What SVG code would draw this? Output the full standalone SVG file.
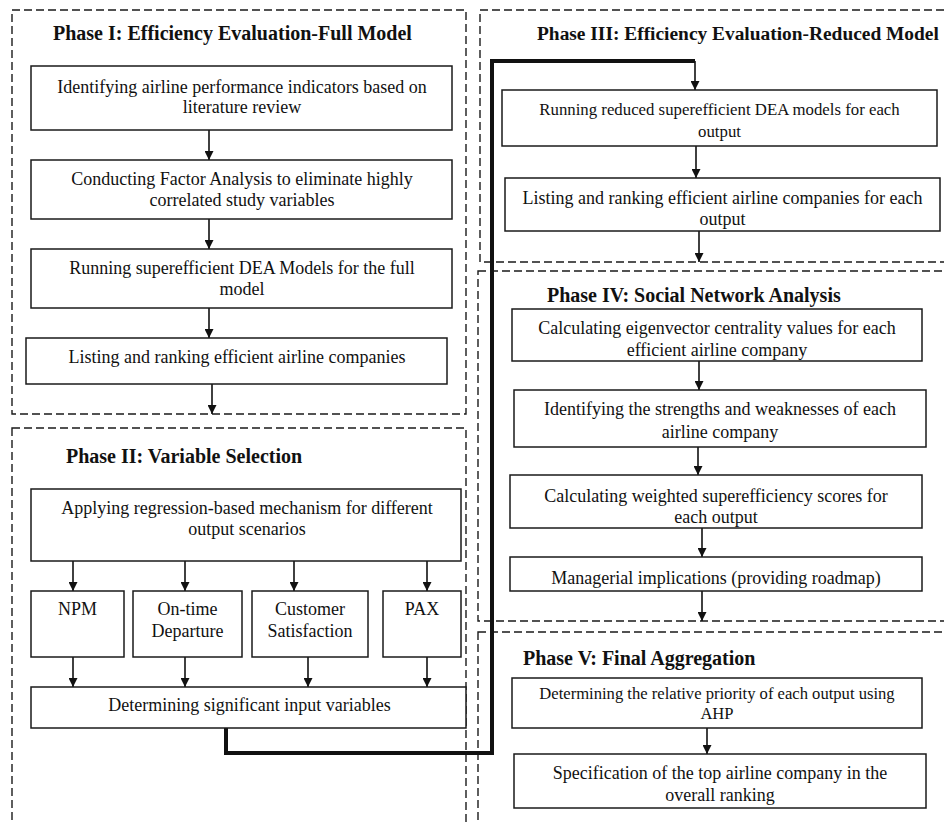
<svg xmlns="http://www.w3.org/2000/svg" width="944" height="824" viewBox="0 0 944 824">
<style>
.phase{fill:none;stroke:#1a1a1a;stroke-width:1.4;stroke-dasharray:8 4}
.box{fill:#fff;stroke:#1a1a1a;stroke-width:1.5}
.t{font-family:"Liberation Serif","Times New Roman",serif;font-size:18px;fill:#111;text-anchor:middle}
.h{font-family:"Liberation Serif","Times New Roman",serif;font-size:20px;font-weight:bold;fill:#111}
.arr{fill:none;stroke:#111;stroke-width:1.6;marker-end:url(#ah)}
.thick{fill:none;stroke:#111;stroke-width:4;stroke-linejoin:miter}
</style>
<defs>
<marker id="ah" markerUnits="userSpaceOnUse" markerWidth="10" markerHeight="9" refX="10" refY="5" orient="auto" viewBox="0 0 10 10">
<path d="M0,0 L10,5 L0,10 Z" fill="#111"/>
</marker>
</defs>
<rect width="944" height="824" fill="#fff"/>

<g id="phase1">
<rect class="phase" x="12" y="10" width="454" height="404"/>
<text class="h" x="53" y="40">Phase I: Efficiency Evaluation-Full Model</text>
</g>
<g id="phase2">
<rect class="phase" x="12" y="428" width="454" height="420"/>
<text class="h" x="66" y="463">Phase II: Variable Selection</text>
</g>
<g id="phase3">
<rect class="phase" x="480" y="10" width="480" height="252"/>
<text class="h" x="537" y="40" style="font-size:19.4px">Phase III: Efficiency Evaluation-Reduced Model</text>
</g>
<g id="phase4">
<rect class="phase" x="478" y="271" width="480" height="350"/>
<text class="h" x="547" y="302">Phase IV: Social Network Analysis</text>
</g>
<g id="phase5">
<rect class="phase" x="478" y="632" width="480" height="220"/>
<text class="h" x="523" y="665">Phase V: Final Aggregation</text>
</g>

<g id="connectors">
<path class="thick" d="M226,728 V753 H492 V61 H695"/>
<path class="arr" d="M695,61 V90"/>
<path class="arr" d="M209,130 V160"/>
<path class="arr" d="M209,219 V249"/>
<path class="arr" d="M209,308 V338"/>
<path class="arr" d="M212,384 V414"/>
<path class="arr" d="M73,561 V591"/>
<path class="arr" d="M185,561 V591"/>
<path class="arr" d="M294,561 V591"/>
<path class="arr" d="M427,561 V591"/>
<path class="arr" d="M73,657 V687"/>
<path class="arr" d="M185,657 V687"/>
<path class="arr" d="M308,657 V687"/>
<path class="arr" d="M427,657 V687"/>
<path class="arr" d="M696,146 V178"/>
<path class="arr" d="M699,231 V262"/>
<path class="arr" d="M699,361 V390"/>
<path class="arr" d="M698,447 V475"/>
<path class="arr" d="M702,528 V557"/>
<path class="arr" d="M702,591 V621"/>
<path class="arr" d="M707,728 V754"/>
</g>

<g id="n1"><rect class="box" x="31" y="66" width="421" height="64"/>
<text class="t" x="242" y="93">Identifying airline performance indicators based on</text>
<text class="t" x="242" y="113">literature review</text></g>
<g id="n2"><rect class="box" x="31" y="160" width="421" height="59"/>
<text class="t" x="242" y="185">Conducting Factor Analysis to eliminate highly</text>
<text class="t" x="242" y="206">correlated study variables</text></g>
<g id="n3"><rect class="box" x="31" y="249" width="421" height="59"/>
<text class="t" x="242" y="274">Running superefficient DEA Models for the full</text>
<text class="t" x="242" y="295">model</text></g>
<g id="n4"><rect class="box" x="26" y="338" width="421" height="46"/>
<text class="t" x="237" y="363">Listing and ranking efficient airline companies</text></g>

<g id="n5"><rect class="box" x="31" y="489" width="430" height="72"/>
<text class="t" x="247" y="514">Applying regression-based mechanism for different</text>
<text class="t" x="247" y="535">output scenarios</text></g>
<g id="n6"><rect class="box" x="31" y="591" width="93" height="66"/>
<text class="t" x="77.5" y="615">NPM</text></g>
<g id="n7"><rect class="box" x="133" y="591" width="109" height="66"/>
<text class="t" x="187.5" y="615">On-time</text>
<text class="t" x="187.5" y="637">Departure</text></g>
<g id="n8"><rect class="box" x="252" y="591" width="116" height="66"/>
<text class="t" x="310" y="615">Customer</text>
<text class="t" x="310" y="637">Satisfaction</text></g>
<g id="n9"><rect class="box" x="383" y="591" width="78" height="66"/>
<text class="t" x="422" y="615">PAX</text></g>
<g id="n10"><rect class="box" x="31" y="687" width="435" height="41"/>
<text class="t" x="249.5" y="711">Determining significant input variables</text></g>

<g id="n11"><rect class="box" x="502" y="90" width="435" height="56"/>
<text class="t" x="719.5" y="115" style="font-size:16.8px">Running reduced superefficient DEA models for each</text>
<text class="t" x="719.5" y="137" style="font-size:16.8px">output</text></g>
<g id="n12"><rect class="box" x="505" y="178" width="435" height="53"/>
<text class="t" x="722.5" y="204">Listing and ranking efficient airline companies for each</text>
<text class="t" x="722.5" y="225">output</text></g>

<g id="n13"><rect class="box" x="512" y="309" width="410" height="52"/>
<text class="t" x="717" y="334">Calculating eigenvector centrality values for each</text>
<text class="t" x="717" y="356">efficient airline company</text></g>
<g id="n14"><rect class="box" x="514" y="390" width="412" height="57"/>
<text class="t" x="720" y="415">Identifying the strengths and weaknesses of each</text>
<text class="t" x="720" y="438">airline company</text></g>
<g id="n15"><rect class="box" x="510" y="475" width="412" height="53"/>
<text class="t" x="716" y="502">Calculating weighted superefficiency scores for</text>
<text class="t" x="716" y="523">each output</text></g>
<g id="n16"><rect class="box" x="510" y="557" width="412" height="34"/>
<text class="t" x="716" y="584">Managerial implications (providing roadmap)</text></g>

<g id="n17"><rect class="box" x="512" y="678" width="410" height="50"/>
<text class="t" x="717" y="699" style="font-size:16.6px">Determining the relative priority of each output using</text>
<text class="t" x="717" y="719" style="font-size:16.6px">AHP</text></g>
<g id="n18"><rect class="box" x="514" y="754" width="412" height="54"/>
<text class="t" x="720" y="779">Specification of the top airline company in the</text>
<text class="t" x="720" y="801">overall ranking</text></g>
</svg>
